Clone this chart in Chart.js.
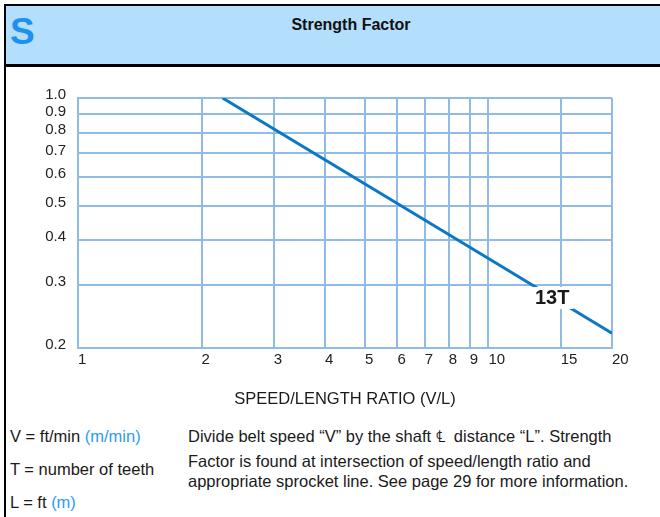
<!DOCTYPE html>
<html>
<head>
<meta charset="utf-8">
<script src="https://cdn.jsdelivr.net/npm/chart.js@4"></script>
<style>
    html, body { margin: 0; padding: 0; background: #fff; }
    body { width: 660px; height: 517px; position: relative; overflow: hidden; font-family: "Liberation Sans", Arial, sans-serif; color: #1a1a1a; }
    .hdr { position: absolute; left: 4px; top: 4px; right: 0; height: 58px; background: #b3defc; border-top: 2px solid #000; border-bottom: 3px solid #000; border-left: 2px solid #000; }
    .hdr .s { position: absolute; left: 4px; top: 5px; font: bold 37px "Liberation Sans", Arial, sans-serif; color: #1e90f0; }
    .hdr .t { position: absolute; left: 0; right: 0; top: 10px; padding-left: 36px; text-align: center; font: bold 16px "Liberation Sans", Arial, sans-serif; color: #111; }
    .rule { position: absolute; left: 4px; top: 66px; bottom: 0; width: 2px; background: #000; }
    .txt { position: absolute; font-size: 16.5px; white-space: nowrap; line-height: 18px; }
    .blue { color: #2d9bf0; }
    #wrap { position: absolute; left: 0; top: 0; width: 660px; height: 517px; }
</style>
</head>
<body>
<div class="hdr"><span class="s">S</span><div class="t">Strength Factor</div></div>
<div class="rule"></div>
<div class="txt" style="left:10px; top:427px;">V = ft/min <span class="blue">(m/min)</span></div>
<div class="txt" style="left:10px; top:460px;">T = number of teeth</div>
<div class="txt" style="left:10px; top:493px;">L = ft <span class="blue">(m)</span></div>
<div class="txt" style="left:188px; top:427px;">Divide belt speed “V” by the shaft ℄&nbsp; distance “L”. Strength</div>
<div class="txt" style="left:188px; top:452px;">Factor is found at intersection of speed/length ratio and</div>
<div class="txt" style="left:188px; top:472px;">appropriate sprocket line. See page 29 for more information.</div>
<div id="wrap"><canvas id="c"></canvas></div>
<script>
// speed/length ratio (V/L) vs strength factor, 13 tooth sprocket (straight line on the log grid)
const ratio = [2.25, 10, 20];
const factor13T = [1.0, 0.356, 0.22];
const xTicks = [1, 2, 3, 4, 5, 6, 7, 8, 9, 10, 15, 20];
const yTicks = [0.2, 0.3, 0.4, 0.5, 0.6, 0.7, 0.8, 0.9, 1.0];
const lineName = '13T';
const tagRatio = 14.3;
const tagFactor = 0.276;

const gridBlue = '#8fbbe7';
const lineBlue = '#0b78c6';
const FONT = '"Liberation Sans", Arial, sans-serif';

// white-boxed "13T" tag sitting on the line
const lineTag = {
    id: 'lineTag',
    afterDatasetsDraw(chart) {
        const { x, y } = chart.scales;
        const cx = x.getPixelForValue(tagRatio);
        const cy = y.getPixelForValue(tagFactor);
        const ctx = chart.ctx;
        ctx.save();
        ctx.font = 'bold 20px ' + FONT;
        const w = ctx.measureText(lineName).width;
        ctx.fillStyle = '#fff';
        ctx.fillRect(cx - w / 2 - 4, cy - 11, w + 8, 22);
        ctx.fillStyle = '#1a1a1a';
        ctx.textAlign = 'center';
        ctx.textBaseline = 'middle';
        ctx.fillText(lineName, cx, cy + 1);
        ctx.restore();
    },
};

new Chart(document.getElementById('c'), {
    type: 'line',
    data: {
        datasets: [
            {
                label: lineName,
                data: ratio.map((r, i) => ({ x: r, y: factor13T[i] })),
                borderColor: lineBlue,
                borderWidth: 3,
                pointRadius: 0,
                tension: 0,
                fill: false,
            },
        ],
    },
    options: {
        responsive: true,
        maintainAspectRatio: false,
        animation: false,
        layout: { padding: { left: 0, top: 98, right: 48, bottom: 108 } },
        plugins: { legend: { display: false }, tooltip: { enabled: false } },
        scales: {
            x: {
                type: 'logarithmic',
                min: 1,
                max: 20,
                afterBuildTicks: (s) => { s.ticks = xTicks.map((v) => ({ value: v })); },
                afterFit: (s) => { s.height = 61; },
                ticks: {
                    autoSkip: false,
                    maxRotation: 0,
                    align: 'start',
                    padding: 3,
                    color: '#222',
                    font: { family: FONT, size: 15 },
                    callback: (v) => String(v),
                },
                grid: { color: gridBlue, lineWidth: 2, drawTicks: false },
                border: { color: gridBlue, width: 2 },
                title: {
                    display: true,
                    text: 'SPEED/LENGTH RATIO (V/L)',
                    color: '#1a1a1a',
                    font: { family: FONT, size: 16.5 },
                    padding: { top: 0, bottom: 0 },
                },
            },
            y: {
                type: 'logarithmic',
                min: 0.2,
                max: 1.0,
                afterBuildTicks: (s) => { s.ticks = yTicks.map((v) => ({ value: v })); },
                afterFit: (s) => { s.width = 78; },
                ticks: {
                    autoSkip: false,
                    padding: 12,
                    labelOffset: -3,
                    color: '#222',
                    font: { family: FONT, size: 15 },
                    callback: (v) => Number(v).toFixed(1),
                },
                grid: { color: gridBlue, lineWidth: 2, drawTicks: false },
                border: { color: gridBlue, width: 2 },
            },
        },
    },
    plugins: [lineTag],
});
</script>
</body>
</html>
